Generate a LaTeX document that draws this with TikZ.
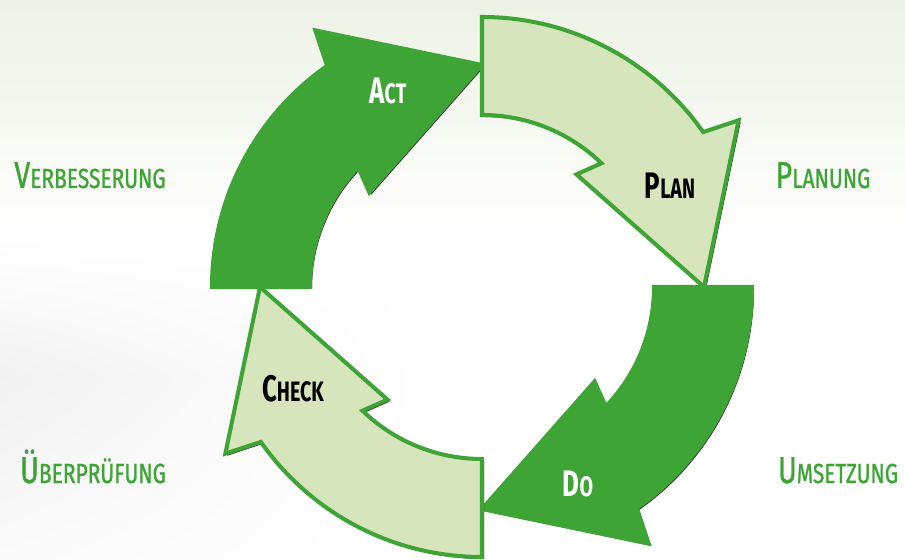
\documentclass[tikz,border=0pt]{standalone}
\usepackage{fontspec}
\usetikzlibrary{shadings}
\setmainfont{Fira Sans}[FakeStretch=0.78]
\newfontfamily\phasefont{Fira Sans}[FakeStretch=0.76, FakeBold=1]
\newfontfamily\stepfont{Fira Sans}[FakeStretch=0.7]

\definecolor{pdcagreen}{HTML}{3EA436}
\definecolor{pdcalight}{HTML}{D7E5BD}
\definecolor{pdcatint}{HTML}{EDF2E5}

% first letter large, the rest as small capitals
\newcommand{\capsmall}[4]{{\fontsize{#1}{#1}\selectfont #3}{\fontsize{#2}{#2}\selectfont #4}}
\newcommand{\phasename}[2]{\phasefont\capsmall{21.3pt}{15.7pt}{#1}{#2}}
\newcommand{\stepname}[2]{\stepfont\bfseries\capsmall{21pt}{16pt}{#1}{#2}}

\tikzset{
  % one quarter of the cycle, tail at angle #1, turning clockwise
  pics/cyclearrow/.style={code={
    \path[pic actions] (#1:172) -- (#1:270)
      arc[start angle=#1, end angle=#1-55, radius=270]
      -- (#1-57:306) -- (#1-90:222) -- (#1-40:147) -- (#1-44:172)
      arc[start angle=#1-44, end angle=#1, radius=172] -- cycle;
  }},
  arrowshadow/.style={fill=black, opacity=0.85},
  arrowbody/.style={draw=pdcagreen, line width=2.3pt, line join=miter},
  phase/.style={anchor=base, text=pdcagreen, inner sep=0pt},
  stepdark/.style={anchor=base, text=white, inner sep=0pt},
  steplight/.style={anchor=base, text=black, inner sep=0pt},
}

\begin{document}
\begin{tikzpicture}[x=0.02cm, y=0.02cm]

    % background
    \useasboundingbox (-482,-273) rectangle (423,287);
    \fill[white] (-482,-273) rectangle (423,287);
    \shade[top color=pdcatint, bottom color=white] (-482,50) rectangle (423,287);
    \shade[upper left=white, lower left=black!5, upper right=white, lower right=white]
        (-482,-90) rectangle (-60,50);
    \shade[upper left=black!5, lower left=black!2, upper right=white, lower right=white]
        (-482,-273) rectangle (-60,-90);

    % the four arrows with their shadows
    \foreach \tail/\body in {180/pdcagreen, 90/pdcalight, 0/pdcagreen, -90/pdcalight} {
        \pic[arrowshadow] at (2,-2) {cyclearrow=\tail};
        \pic[arrowbody, fill=\body] {cyclearrow=\tail};
    }

    % labels on the arrows
    \node[stepdark]  (act)   at (-94,183)  {\stepname{A}{CT}};
    \node[steplight] (plan)  at (188,88)   {\stepname{P}{LAN}};
    \node[stepdark]  (do)    at (96,-210)  {\stepname{D}{O}};
    \node[steplight] (check) at (-189,-115) {\stepname{C}{HECK}};

    % labels around the cycle
    \node[phase] (verbesserung)  at (-392,99)  {\phasename{V}{ERBESSERUNG}};
    \node[phase] (planung)       at (341,99)   {\phasename{P}{LANUNG}};
    \node[phase] (umsetzung)     at (356,-196) {\phasename{U}{MSETZUNG}};
    \node[phase] (ueberpruefung) at (-389,-196) {\phasename{Ü}{BERPRÜFUNG}};
\end{tikzpicture}
\end{document}
